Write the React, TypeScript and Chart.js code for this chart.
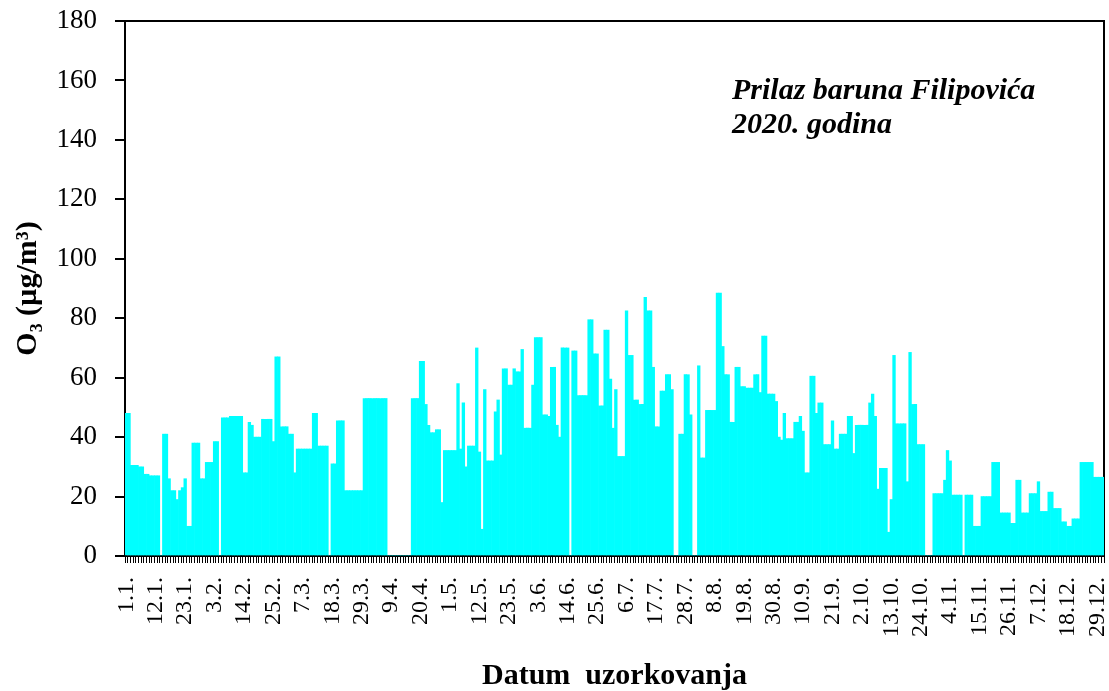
import React, { useEffect, useRef } from 'react';
import { Chart, registerables } from 'chart.js';

Chart.register(...registerables);

// Daily O3 concentrations (µg/m3), 2020, one array per month
const jan = [48, 48, 30.5, 30.5, 30.5, 30, 30, 27.5, 27.5, 27, 27, 27, 27, 0, 41, 41, 26, 22, 22, 19, 22, 23, 26, 10, 10, 38, 38, 38, 26, 26, 31.5];
const feb = [31.5, 31.5, 38.5, 38.5, 0, 46.5, 46.5, 46.5, 47, 47, 47, 47, 47, 28, 28, 45, 44, 40, 40, 40, 46, 46, 46, 46, 38.5, 67, 67, 43.5, 43.5];
const mar = [43.5, 41, 41, 28, 36, 36, 36, 36, 36, 36, 48, 48, 37, 37, 37, 37, 0, 31, 31, 45.5, 45.5, 45.5, 22, 22, 22, 22, 22, 22, 22, 53, 53];
const apr = [53, 53, 53, 53, 53, 53, 53, 0, 0, 0, 0, 0, 0, 0, 0, 0, 53, 53, 53, 65.5, 65.5, 51, 44, 41.5, 41.5, 42.5, 42.5, 18, 35.5, 35.5];
const may = [35.5, 35.5, 35.5, 58, 36, 51.5, 30, 37, 37, 37, 70, 35, 9, 56, 32, 32, 32, 48.5, 52.5, 34, 63, 63, 57.5, 57.5, 63, 62, 62, 69.5, 43, 43, 43];
const jun = [57.5, 73.5, 73.5, 73.5, 47.5, 47.5, 47, 63.5, 63.5, 44, 40, 70, 70, 70, 0, 69, 69, 54, 54, 54, 54, 79.5, 79.5, 68, 68, 50.5, 50.5, 76, 76, 59.5];
const jul = [43, 56, 33.5, 33.5, 33.5, 82.5, 67.5, 67.5, 52.5, 52.5, 51, 51, 87, 82.5, 82.5, 63.5, 43.5, 43.5, 55.5, 55.5, 61, 61, 56, 0, 0, 41, 41, 61, 61, 47.5, 0];
const aug = [0, 64, 33, 33, 49, 49, 49, 49, 88.5, 88.5, 70.5, 61, 61, 45, 45, 63.5, 63.5, 57, 57, 56.5, 56.5, 56.5, 61, 61, 55, 74, 74, 54.5, 54.5, 54.5, 52];
const sep = [40, 39, 48, 39.5, 39.5, 39.5, 45, 45, 47, 42, 28, 28, 60.5, 60.5, 48, 51.5, 51.5, 37.5, 37.5, 37.5, 45.5, 36, 36, 41, 41, 41, 47, 47, 34.5, 44];
const oct = [44, 44, 44, 44, 51.5, 54.5, 47, 22.5, 29.5, 29.5, 29.5, 8, 19, 67.5, 44.5, 44.5, 44.5, 44.5, 25, 68.5, 51, 51, 37.5, 37.5, 37.5, 0, 0, 0, 21, 21, 21];
const nov = [21, 25.5, 35.5, 32, 20.5, 20.5, 20.5, 20.5, 0, 20.5, 20.5, 20.5, 10, 10, 10, 20, 20, 20, 20, 31.5, 31.5, 31.5, 14.5, 14.5, 14.5, 14.5, 11, 11, 25.5, 25.5];
const dec = [14.5, 14.5, 14.5, 21, 21, 21, 25, 15, 15, 15, 21.5, 21.5, 16, 16, 16, 11.5, 11.5, 10, 10, 12.5, 12.5, 12.5, 31.5, 31.5, 31.5, 31.5, 31.5, 26.5, 26.5, 26.5, 26.5];

const monthly = [jan, feb, mar, apr, may, jun, jul, aug, sep, oct, nov, dec];
const o3Values: number[] = ([] as number[]).concat(...monthly);

// Categories: every day of 2020 as "d.m."
const categories: string[] = [];
monthly.forEach((m, mi) => {
  m.forEach((_, di) => categories.push(`${di + 1}.${mi + 1}.`));
});

const LABEL_STEP = 11; // a date label every 11 days
const Y_MIN = 0;
const Y_MAX = 180;
const Y_STEP = 20;
const yTitle = 'O₃ (µg/m³)';
const xTitle = 'Datum  uzorkovanja';
const noteLines = ['Prilaz baruna Filipovića', '2020. godina'];
const SERIF = "'Liberation Serif', 'Times New Roman', serif";

const noPad = (s: any) => {
  s.paddingTop = 0;
  s.paddingBottom = 0;
  s.paddingLeft = 0;
  s.paddingRight = 0;
};

export default function App() {
  const ref = useRef<HTMLCanvasElement>(null);

  useEffect(() => {
    if (!ref.current) return;

    const frame = {
      id: 'frame',
      beforeDatasetsDraw(chart: any) {
        const { ctx, chartArea: a } = chart;
        ctx.save();
        ctx.strokeStyle = '#000';
        ctx.lineWidth = 2;
        ctx.beginPath();
        ctx.moveTo(a.left, a.top);
        ctx.lineTo(a.right, a.top);
        ctx.lineTo(a.right, a.bottom);
        ctx.stroke();
        ctx.restore();
      },
    };

    const note = {
      id: 'note',
      afterDraw(chart: any) {
        const { ctx } = chart;
        ctx.save();
        ctx.fillStyle = '#000';
        ctx.font = `italic bold 30px ${SERIF}`;
        ctx.textAlign = 'left';
        ctx.textBaseline = 'alphabetic';
        ctx.fillText(noteLines[0], 732, 99);
        ctx.fillText(noteLines[1], 732, 133);
        ctx.restore();
      },
    };

    const chart = new Chart(ref.current, {
      type: 'bar',
      data: {
        labels: categories,
        datasets: [
          {
            data: o3Values,
            backgroundColor: '#00FFFF',
            borderWidth: 0,
            barPercentage: 1,
            categoryPercentage: 1,
          },
        ],
      },
      options: {
        responsive: false,
        animation: false,
        layout: { padding: { top: 21, right: 5, left: 0, bottom: 0 } },
        plugins: {
          legend: { display: false },
          tooltip: { enabled: false },
        },
        scales: {
          x: {
            type: 'category',
            offset: true,
            z: 1,
            grid: {
              display: true,
              drawOnChartArea: false,
              drawTicks: true,
              tickLength: 7,
              color: '#000',
              lineWidth: 1,
              offset: true,
            },
            border: { display: true, color: '#000', width: 2 },
            ticks: {
              autoSkip: false,
              minRotation: 90,
              maxRotation: 90,
              padding: 14,
              color: '#000',
              font: { family: SERIF, size: 24 },
              callback: (_v: any, i: number) => (i % LABEL_STEP === 0 ? categories[i] : ''),
            },
            title: {
              display: true,
              text: xTitle,
              color: '#000',
              font: { family: SERIF, size: 30, weight: 'bold', lineHeight: 1 },
              padding: { top: 0, bottom: 0 },
            },
            afterFit: (s: any) => {
              s.height = 135;
              noPad(s);
            },
          },
          y: {
            min: Y_MIN,
            max: Y_MAX,
            z: 1,
            ticks: {
              stepSize: Y_STEP,
              padding: 18,
              color: '#000',
              font: { family: SERIF, size: 27 },
            },
            grid: {
              display: true,
              drawOnChartArea: false,
              tickLength: 10,
              color: '#000',
              lineWidth: 2,
            },
            border: { display: true, color: '#000', width: 2 },
            title: {
              display: true,
              text: yTitle,
              color: '#000',
              font: { family: SERIF, size: 30, weight: 'bold', lineHeight: 1 },
              padding: { top: 13, bottom: 0 },
            },
            afterFit: (s: any) => {
              s.width = 125;
              noPad(s);
            },
          },
        },
      } as any,
      plugins: [frame, note],
    });

    return () => chart.destroy();
  }, []);

  return (
    <div style={{ position: 'absolute', left: 0, top: 0, width: 1109, height: 691, background: '#fff' }}>
      <canvas ref={ref} width={1109} height={691} style={{ display: 'block' }} />
    </div>
  );
}
